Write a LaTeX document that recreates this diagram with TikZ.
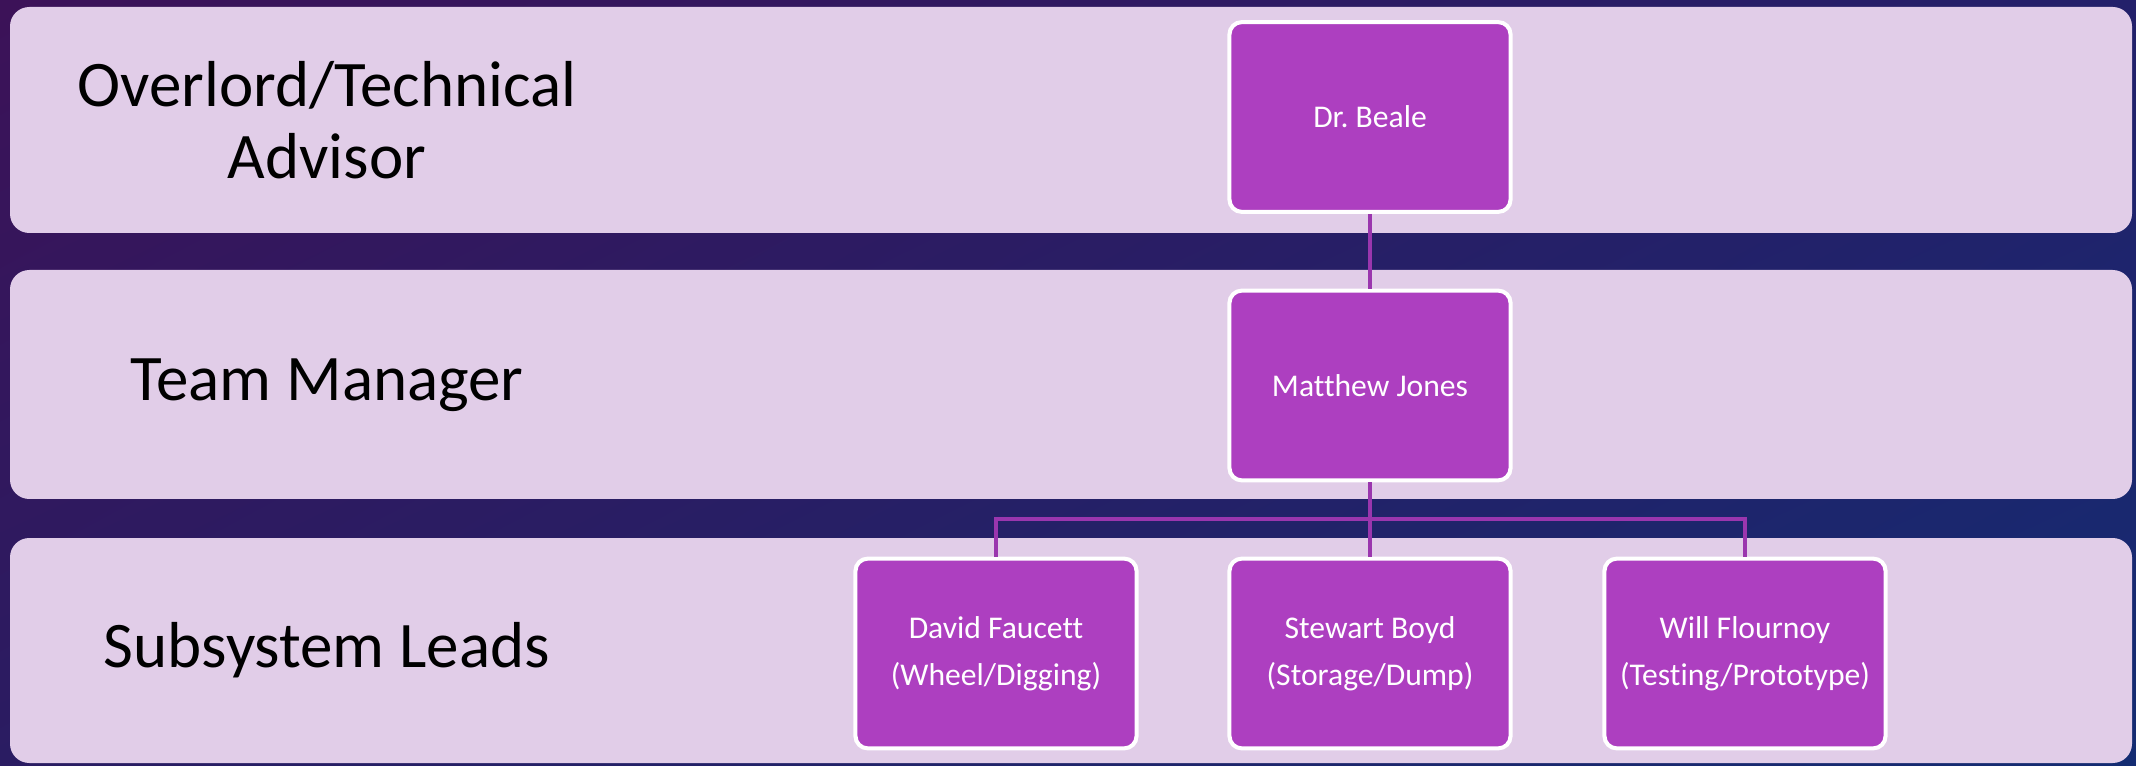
\documentclass[tikz,border=0pt]{standalone}
\usepackage{fontspec}
\setmainfont{Carlito}[Ligatures=NoCommon]
\usepackage{tikz}
\usetikzlibrary{positioning, shadings}

\definecolor{bandfill}{HTML}{E1CDE8}
\definecolor{boxfill}{HTML}{AD3FC0}
\definecolor{linkcol}{HTML}{9A36AE}
\definecolor{bgul}{HTML}{3C1258}
\definecolor{bgur}{HTML}{23206A}
\definecolor{bgll}{HTML}{2A1C62}
\definecolor{bglr}{HTML}{142C72}

\begin{document}
\frenchspacing
\begin{tikzpicture}[x=0.02cm, y=-0.02cm,
    band/.style={fill=bandfill, rounded corners=11pt},
    level/.style={align=center, font=\fontsize{37}{41}\selectfont},
    person/.style={draw=white, line width=2.3pt, fill=boxfill, rounded corners=7pt,
        minimum width=160pt, minimum height=108pt, align=center, text=white,
        font=\fontsize{18}{27}\selectfont},
    link/.style={linkcol, line width=2.3pt}]
        \useasboundingbox (0,0) rectangle (2136,766);
        \shade[upper left=bgul, upper right=bgur, lower left=bgll, lower right=bglr] (0,0) rectangle (2136,766);

        \fill[band] (10,7) rectangle (2132,233);
        \fill[band] (10,270) rectangle (2132,499);
        \fill[band] (10,538) rectangle (2132,763);

        \node[level] (advisor) at (327,120) {Overlord/Technical\\Advisor};
        \node[level] (manager) at (327,385) {Team Manager};
        \node[level] (leads) at (327,650) {Subsystem Leads};

        \node[person] (beale) at (1370,117) {Dr. Beale};
        \node[person] (jones) at (1370,385.5) {Matthew Jones};
        \node[person] (faucett) at (996,653.5) {David Faucett\\(Wheel/Digging)};
        \node[person] (boyd) at (1370,653.5) {Stewart Boyd\\(Storage/Dump)};
        \node[person] (flournoy) at (1745,653.5) {Will Flournoy\\(Testing/Prototype)};

        \coordinate (split) at (1370,519);
        \draw[link] (beale.south) -- (jones.north);
        \draw[link] (jones.south) -- (boyd.north);
        \draw[link] (faucett.north) |- (split) -| (flournoy.north);

    \end{tikzpicture}
\end{document}
